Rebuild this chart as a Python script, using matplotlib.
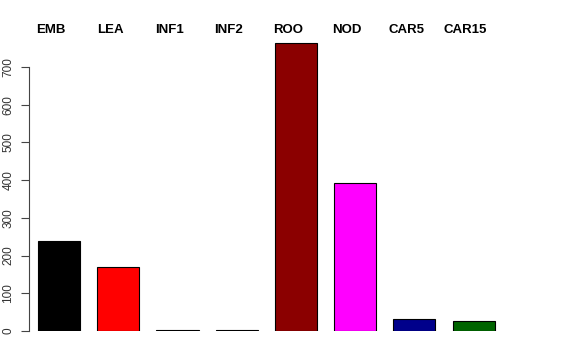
import matplotlib.pyplot as plt
import matplotlib.transforms as mtransforms
import numpy as np

plt.rcParams["font.family"] = ["Liberation Sans", "DejaVu Sans"]

# tissues and counts
tissues = ["EMB", "LEA", "INF1", "INF2", "ROO", "NOD", "CAR5", "CAR15"]
counts = [238, 171, 2, 2, 764, 392, 32, 27]
colors = ["black", "red", "#404040", "#404040", "darkred", "magenta", "darkblue", "darkgreen"]

fig = plt.figure(figsize=(5.76, 3.6), dpi=100)
ax = fig.add_axes([29 / 576, 29 / 360, 521 / 576, 291 / 360])

x = np.arange(len(tissues))
ax.bar(x, counts, width=0.71, color=colors, edgecolor="black", linewidth=0.8)

ax.set_xlim(-0.507, 8.29)
ax.set_ylim(0, 771.6)

for s in ["top", "right", "bottom"]:
    ax.spines[s].set_visible(False)
ax.spines["left"].set_bounds(0, 700)
ax.spines["left"].set_color("#444444")
ax.set_xticks([])
ax.set_yticks(range(0, 701, 100))
ax.tick_params(axis="y", length=5.5, color="#444444", labelsize=8.5,
               labelcolor="#333333", pad=5)
for lab in ax.get_yticklabels():
    lab.set_rotation(90)
    lab.set_va("center")

# labels sit a little left of the bar centres, as in the original
trans = mtransforms.blended_transform_factory(ax.transData, ax.transAxes)
for xi, name in zip(x, tissues):
    ax.text(xi - 0.135, 1.036, name, transform=trans, ha="center",
            va="center", fontsize=9.5, fontweight="bold")

fig.savefig("out.png", dpi=100)
